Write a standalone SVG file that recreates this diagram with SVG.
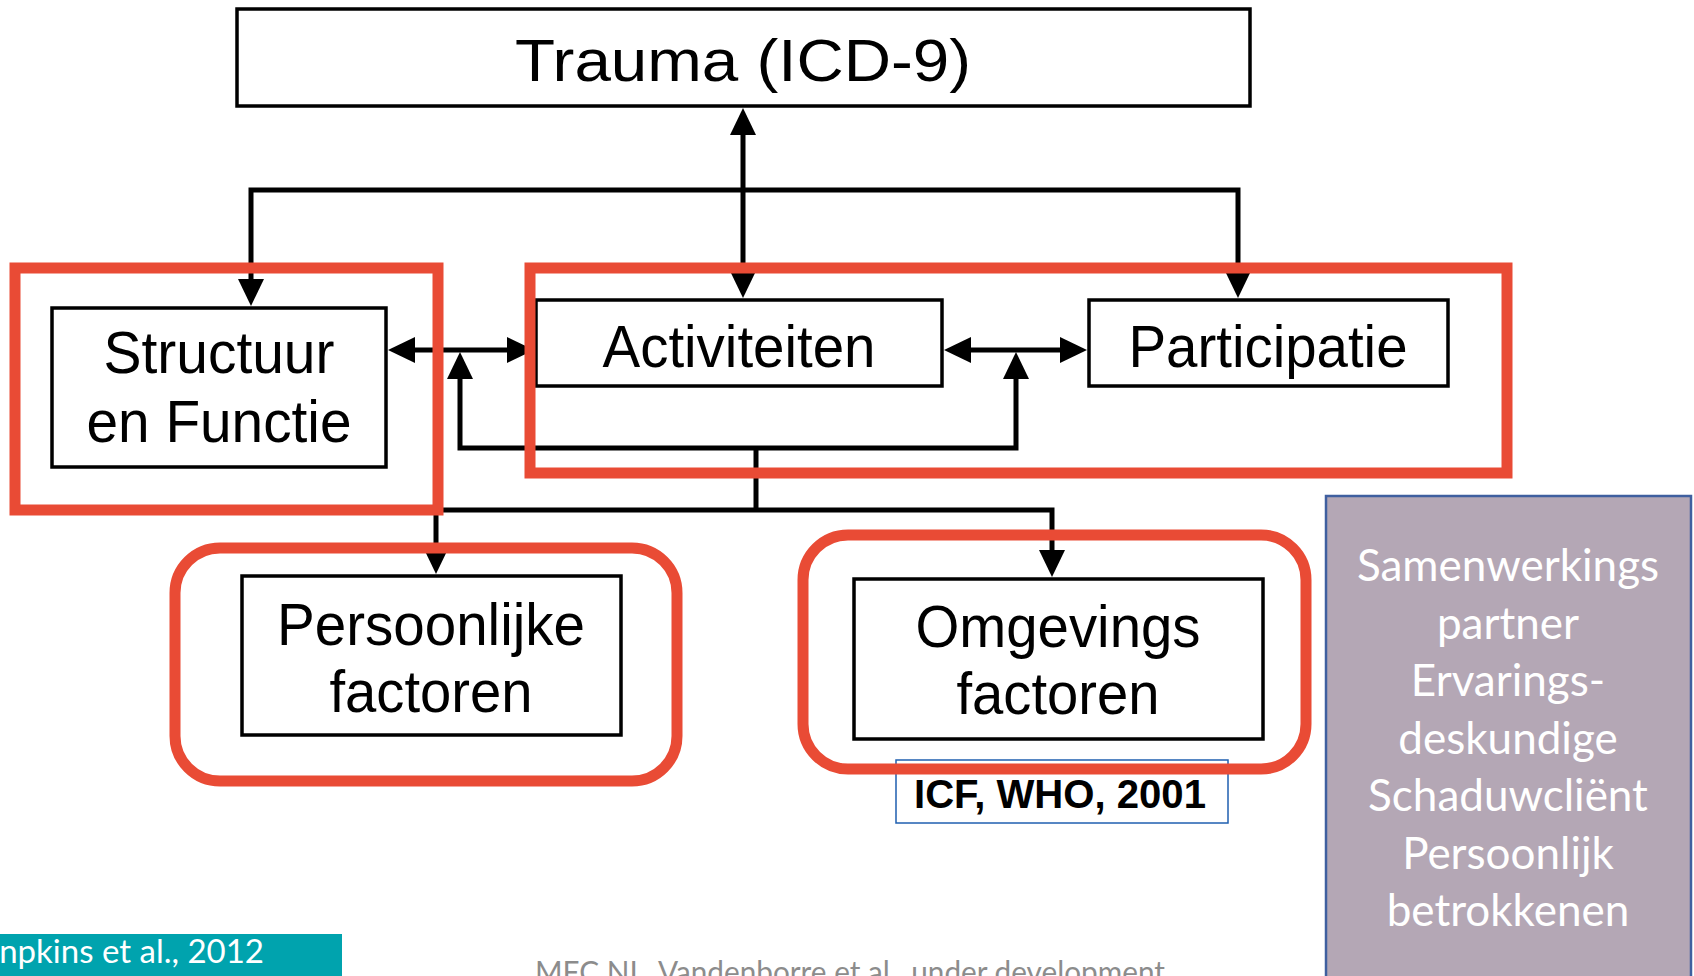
<svg xmlns="http://www.w3.org/2000/svg" width="1694" height="976" viewBox="0 0 1694 976">
<style>
.box{fill:#fff;stroke:#000;stroke-width:3.5}
.lbl{font-family:"Liberation Sans",Arial,sans-serif;font-size:60px;fill:#000;text-anchor:middle}
.frame{fill:none;stroke:#E94B35;stroke-width:11}
.conn{fill:none;stroke:#000;stroke-width:5}
.side{font-family:Lato,"Open Sans",sans-serif;font-size:44px;fill:#fff;text-anchor:middle}
</style>
<defs>
<marker id="ah" viewBox="0 0 27 26" markerWidth="27" markerHeight="26" refX="9" refY="13" orient="auto-start-reverse" markerUnits="userSpaceOnUse">
<path d="M0,0 L27,13 L0,26 z" fill="#000"/>
</marker>
</defs>
<rect width="1694" height="976" fill="#fff"/>

<g id="trauma">
<rect class="box" x="237" y="9" width="1013" height="97"/>
<text class="lbl" x="743" y="81" font-size="68" textLength="456" lengthAdjust="spacingAndGlyphs">Trauma (ICD-9)</text>
</g>

<g id="structuur">
<rect class="box" x="52" y="308" width="334" height="159"/>
<text class="lbl" x="219" y="373" textLength="231" lengthAdjust="spacingAndGlyphs">Structuur</text>
<text class="lbl" x="219" y="442" textLength="265" lengthAdjust="spacingAndGlyphs">en Functie</text>
</g>

<g id="activiteiten">
<rect class="box" x="536" y="300" width="406" height="86"/>
<text class="lbl" x="739" y="367" textLength="273" lengthAdjust="spacingAndGlyphs">Activiteiten</text>
</g>

<g id="participatie">
<rect class="box" x="1089" y="300" width="359" height="86"/>
<text class="lbl" x="1268" y="367" textLength="279" lengthAdjust="spacingAndGlyphs">Participatie</text>
</g>

<g id="persoonlijke">
<rect class="box" x="242" y="576" width="379" height="159"/>
<text class="lbl" x="431" y="645" textLength="308" lengthAdjust="spacingAndGlyphs">Persoonlijke</text>
<text class="lbl" x="431" y="712" textLength="203" lengthAdjust="spacingAndGlyphs">factoren</text>
</g>

<g id="omgevings">
<rect class="box" x="854" y="579" width="409" height="160"/>
<text class="lbl" x="1058" y="647" textLength="285" lengthAdjust="spacingAndGlyphs">Omgevings</text>
<text class="lbl" x="1058" y="714" textLength="203" lengthAdjust="spacingAndGlyphs">factoren</text>
</g>

<g id="icf">
<rect x="896" y="760" width="332" height="63" fill="#fff" stroke="#1F5FB0" stroke-width="1.5"/>
<text x="1060" y="808" font-family="Liberation Sans,Arial,sans-serif" font-weight="bold" font-size="40" text-anchor="middle" textLength="292" lengthAdjust="spacingAndGlyphs">ICF, WHO, 2001</text>
</g>

<g id="connectors">
<path class="conn" d="M743,280 L743,126" marker-start="url(#ah)" marker-end="url(#ah)"/>
<path class="conn" d="M251,288 L251,190 L1238,190 L1238,280" marker-start="url(#ah)" marker-end="url(#ah)"/>
<path class="conn" d="M406,350 L516,350" marker-start="url(#ah)" marker-end="url(#ah)"/>
<path class="conn" d="M962,350 L1069,350" marker-start="url(#ah)" marker-end="url(#ah)"/>
<path class="conn" d="M460,370 L460,448 L1016,448 L1016,370" marker-start="url(#ah)" marker-end="url(#ah)"/>
<path class="conn" d="M756,448 L756,510"/>
<path class="conn" d="M436,556 L436,510 L1052,510 L1052,559" marker-start="url(#ah)" marker-end="url(#ah)"/>
</g>

<g id="highlights">
<rect class="frame" x="15" y="268" width="423" height="242"/>
<rect class="frame" x="530" y="268" width="977" height="205"/>
<rect class="frame" x="175" y="548" width="502" height="233" rx="45"/>
<rect class="frame" x="803" y="535" width="503" height="234" rx="45"/>
</g>

<g id="partners">
<rect x="1326" y="496" width="365" height="500" fill="#B4A7B5" stroke="#3F5F9F" stroke-width="2.5"/>
<text class="side" x="1508" y="581">Samenwerkings</text>
<text class="side" x="1508" y="639">partner</text>
<text class="side" x="1508" y="696">Ervarings-</text>
<text class="side" x="1508" y="754">deskundige</text>
<text class="side" x="1508" y="811">Schaduwcliënt</text>
<text class="side" x="1508" y="869">Persoonlijk</text>
<text class="side" x="1508" y="926">betrokkenen</text>
</g>

<g id="reference">
<rect x="0" y="934" width="342" height="50" fill="#00A3AE"/>
<text x="264" y="963" font-family="Lato,sans-serif" font-size="33" fill="#fff" text-anchor="end">npkins et al., 2012</text>
</g>

<g id="footer">
<text x="535" y="983" font-family="Lato,sans-serif" font-size="30" fill="#8C8C8C" textLength="630" lengthAdjust="spacingAndGlyphs">MFC NL, Vandenborre et al., under development</text>
</g>
</svg>
